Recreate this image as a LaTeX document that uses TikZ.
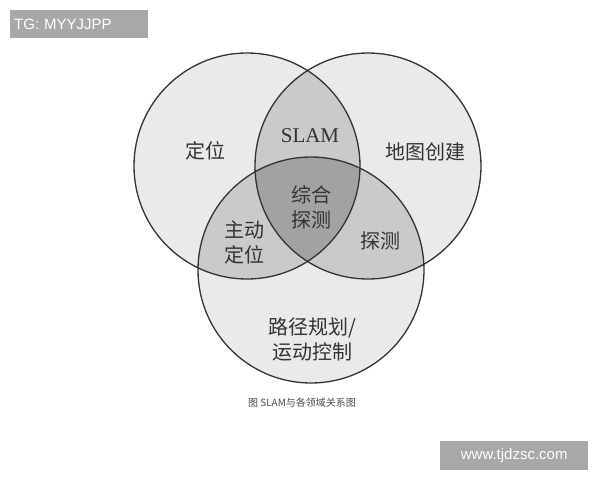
\documentclass[tikz,border=0pt]{standalone}
\usepackage{fontspec}
\setmainfont{Liberation Sans}
\newfontfamily\cjk{Noto Sans CJK SC}
\newfontfamily\latinserif{Liberation Serif}
\usetikzlibrary{positioning}
\newcommand{\vennradius}{113pt}
\definecolor{lightregion}{HTML}{EAEAEA}
\definecolor{midregion}{HTML}{CACACA}
\definecolor{darkregion}{HTML}{A2A2A2}
\definecolor{ringline}{HTML}{333333}
\definecolor{tagfill}{HTML}{A8A8A8}

\begin{document}
\begin{tikzpicture}[x=1pt, y=-1pt,
    region/.style={font=\cjk\fontsize{20}{25}\selectfont, text=black!80, align=center},
    tagbox/.style={fill=tagfill, text=white, font=\fontsize{15}{18}\selectfont, minimum height=28pt, inner xsep=4pt}]
            \useasboundingbox (0,0) rectangle (600,480);
            \fill[white] (0,0) rectangle (600,480);
            \coordinate (loc) at (247,166);
            \coordinate (map) at (368,166);
            \coordinate (plan) at (311,270);
            % single fields
            \fill[lightregion] (loc) circle[radius=\vennradius];
            \fill[lightregion] (map) circle[radius=\vennradius];
            \fill[lightregion] (plan) circle[radius=\vennradius];
            % pairwise overlaps
            \begin{scope}
                \clip (loc) circle[radius=\vennradius];
                \fill[midregion] (map) circle[radius=\vennradius];
                \fill[midregion] (plan) circle[radius=\vennradius];
            \end{scope}
            \begin{scope}
                \clip (map) circle[radius=\vennradius];
                \fill[midregion] (plan) circle[radius=\vennradius];
            \end{scope}
            % triple overlap
            \begin{scope}
                \clip (loc) circle[radius=\vennradius];
                \clip (map) circle[radius=\vennradius];
                \fill[darkregion] (plan) circle[radius=\vennradius];
            \end{scope}
            \foreach \c in {loc, map, plan}
                \draw[ringline, line width=1.3pt] (\c) circle[radius=\vennradius];
            % labels
            \node[region] (dingwei) at (205,151) {定位};
            \node[region] (mapping) at (425,152) {地图创建};
            \node[region, font=\latinserif\fontsize{21}{25}\selectfont] (slam) at (310,136) {SLAM};
            \node[region] (zonghe) at (311,207) {综合\\探测};
            \node[region] (zhudong) at (244,242) {主动\\定位};
            \node[region] (tance) at (380,241) {探测};
            \node[region] (guihua) at (312,339) {路径规划/\\运动控制};
            \node[font=\cjk\fontsize{10}{12}\selectfont, text=black!70] (caption) at (302,403) {图 SLAM与各领域关系图};
            \node[tagbox, anchor=north west, text width=130pt] (tg) at (10,10) {TG: MYYJJPP};
            \node[tagbox, anchor=north west, minimum width=148pt, minimum height=29pt] (site) at (440,441) {www.tjdzsc.com};
        \end{tikzpicture}
\end{document}
